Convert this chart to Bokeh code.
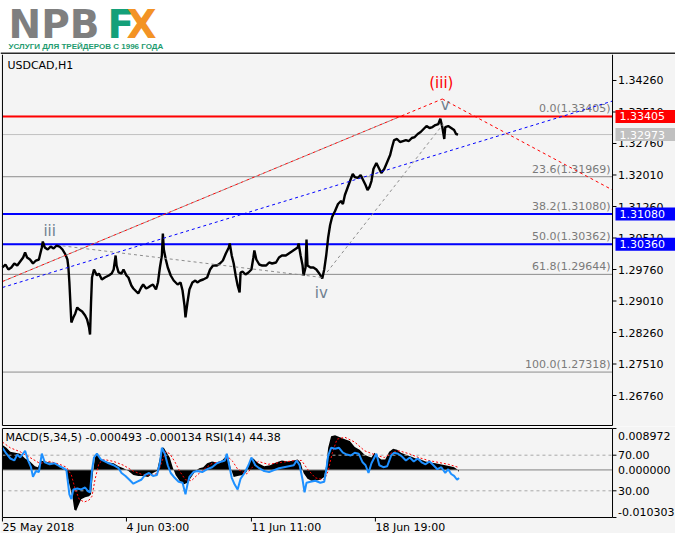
from bokeh.plotting import figure
from bokeh.models import Range1d, Label, Span
from bokeh.layouts import column
from bokeh.embed import file_html
from bokeh.resources import INLINE
from bokeh.core.properties import value

# ---------------- data ----------------
symbol = "USDCAD,H1"
logo_main = "NPB"
logo_f = "F"
logo_x = "X"
logo_sub = "УСЛУГИ ДЛЯ ТРЕЙДЕРОВ С 1996 ГОДА"

# bar position (one bar per pixel column) and price
price_bar = [2,5,8,11,14,17,20,23,25,27,30,33,36,39,42,43,45,48,51,54,57,60,63,66,68,69,70,72,74,76,
             78,80,83,86,88,90,91,92,93,95,98,100,103,106,110,113,115,117,118,120,123,125,128,130,133,135,138,140,143,145,
             148,150,153,155,158,160,162,164,165,166,168,170,173,176,180,183,185,187,188,190,192,195,198,200,203,206,210,213,216,220,
             223,226,229,232,233,235,237,239,241,243,244,246,249,252,255,257,258,260,263,266,270,273,276,280,283,286,290,293,296,299,
             302,303,305,307,308,310,311,312,315,318,321,324,327,329,331,333,335,337,340,343,346,348,350,353,356,358,360,363,366,369,
             371,373,375,377,379,382,384,387,390,393,396,398,400,403,406,409,412,415,418,421,424,427,430,433,436,439,442,445,447,449,
             451,452,455,458,461,463,465]
price_close = [1.29808,1.29879,1.29760,1.29808,1.29903,1.29855,1.29950,1.30046,1.30165,1.30046,
               1.29998,1.29903,1.29974,1.29998,1.30284,1.30426,1.30284,1.30236,1.30307,1.30260,
               1.30331,1.30307,1.30236,1.30117,1.29998,1.29808,1.29451,1.28499,1.28618,1.28713,
               1.28856,1.28808,1.28760,1.28665,1.28570,1.28380,1.28213,1.28975,1.29570,1.29760,
               1.29617,1.29665,1.29522,1.29570,1.29617,1.29665,1.29760,1.30093,1.29855,1.29689,
               1.29665,1.29760,1.29617,1.29570,1.29379,1.29308,1.29236,1.29189,1.29332,1.29403,
               1.29308,1.29332,1.29379,1.29403,1.29284,1.29451,1.29808,1.30093,1.30617,1.30236,
               1.29998,1.29808,1.29617,1.29498,1.29403,1.29451,1.29260,1.28903,1.28618,1.28975,
               1.29284,1.29451,1.29498,1.29451,1.29498,1.29522,1.29570,1.29760,1.29855,1.29855,
               1.29903,1.29974,1.30141,1.30284,1.30379,1.30093,1.29903,1.29617,1.29379,1.29213,
               1.29689,1.29712,1.29641,1.29689,1.29760,1.30046,1.30212,1.29998,1.29879,1.29855,
               1.29855,1.29927,1.29903,1.29927,1.30046,1.30093,1.30093,1.30141,1.30188,1.30236,
               1.30284,1.30379,1.30093,1.29855,1.29617,1.29808,1.30474,1.29855,1.29808,1.29808,
               1.29760,1.29665,1.29546,1.29760,1.30093,1.30522,1.30820,1.31010,1.31153,1.31320,
               1.31391,1.31320,1.31534,1.31724,1.31915,1.32034,1.31962,1.31939,1.32010,1.31867,
               1.31772,1.31653,1.31724,1.31867,1.32153,1.32296,1.32200,1.32058,1.32153,1.32319,
               1.32486,1.32676,1.32843,1.32867,1.32795,1.32819,1.32843,1.32819,1.32891,1.32914,
               1.32986,1.33033,1.33105,1.33176,1.33129,1.33152,1.33200,1.33224,1.33350,1.33152,
               1.32867,1.33152,1.33176,1.33129,1.33081,1.32986,1.32973]

price_ticks = [1.34260, 1.33510, 1.32760, 1.32010, 1.31260, 1.30510, 1.29760, 1.29010, 1.28260, 1.27510, 1.26760]
price_bottom, price_top = 1.26022, 1.34879
bar_first, bar_axis, bar_end = 2, 622, 686

fib_pct = ["0.0", "23.6", "38.2", "50.0", "61.8", "100.0"]
fib_levels = [1.33405, 1.31969, 1.31080, 1.30362, 1.29644, 1.27318]

line_levels = [1.33405, 1.31080, 1.30360]
line_colors = ["#FF0000", "#0000FF", "#0000FF"]
bid_level = 1.32973

tag_levels = [1.33405, 1.32973, 1.31080, 1.30360]
tag_colors = ["#FF0000", "#C0C0C0", "#0000FF", "#0000FF"]

# trend lines (bar, price)
trend_x0 = [2, 449, 2]
trend_y0 = [1.29474, 1.33819, 1.29332]
trend_x1 = [449, 622, 622]
trend_y1 = [1.33819, 1.31653, 1.33771]
trend_colors = ["#FF0000", "#FF0000", "#0000FF"]
wave_x0 = [2, 60, 330]
wave_y0 = [1.29474, 1.30331, 1.29641]
wave_x1 = [405, 327, 450]
wave_y1 = [1.33390, 1.29570, 1.33224]

wave_text = ["iii", "iv", "v", "(iii)"]
wave_bar = [50, 326, 452, 448]
wave_price = [1.30688, 1.29189, 1.33676, 1.34212]
wave_colors = ["#708090", "#708090", "#708090", "#FF0000"]

time_ticks = [2, 128, 255, 381]
time_labels = ["25 May 2018", "4 Jun 03:00", "11 Jun 11:00", "18 Jun 19:00"]

macd_params = "5,34,5"
macd_main_last = -0.000493
macd_signal_last = -0.000134
rsi_period = 14
rsi_last = 44.38
macd_lo, macd_hi = -0.010303, 0.008972
rsi_levels = [30, 70]

hist_bar = [2,6,10,15,20,25,30,35,38,41,45,50,55,60,64,67,70,73,75,77,79,82,86,90,92,94,96,98,101,105,
            110,115,120,125,130,135,140,145,150,155,159,162,164,166,169,172,175,178,182,186,190,194,198,202,206,210,215,220,225,229,
            231,234,237,241,246,250,254,257,262,268,274,280,286,292,298,302,305,308,312,316,320,325,329,331,333,336,340,345,350,355,
            360,365,370,374,377,380,383,387,391,395,399,403,407,412,417,422,427,432,437,442,447,452,457,461,464,466]
hist_val = [0.00541,0.00478,0.00394,0.00373,0.00352,0.00247,0.00184,0.00080,0.00059,0.00205,
            0.00184,0.00163,0.00142,0.00080,0.00017,-0.00025,-0.00318,-0.00570,-0.00863,-0.00884,
            -0.00779,-0.00633,-0.00591,-0.00570,-0.00528,-0.00067,0.00268,0.00352,0.00247,0.00205,
            0.00163,0.00142,0.00080,0.00038,-0.00025,-0.00109,-0.00130,-0.00130,-0.00151,-0.00067,
            -0.00025,0.00268,0.00478,0.00478,0.00373,0.00268,0.00059,-0.00109,-0.00235,-0.00318,
            -0.00277,-0.00151,-0.00025,0.00038,0.00059,0.00142,0.00184,0.00163,0.00205,0.00289,
            0.00310,0.00038,-0.00151,-0.00130,-0.00109,-0.00046,0.00205,0.00247,0.00142,0.00080,
            0.00101,0.00163,0.00205,0.00184,0.00205,0.00226,0.00163,-0.00067,-0.00193,-0.00235,
            -0.00235,-0.00214,-0.00151,0.00101,0.00478,0.00729,0.00750,0.00708,0.00666,0.00624,
            0.00499,0.00436,0.00331,0.00289,0.00268,0.00373,0.00289,0.00226,0.00226,0.00394,
            0.00457,0.00436,0.00373,0.00331,0.00289,0.00247,0.00226,0.00184,0.00163,0.00142,
            0.00122,0.00101,0.00080,0.00059,0.00017,-0.00046]

sig_bar = [2,10,20,30,40,50,60,67,72,76,80,85,90,93,96,100,105,115,125,135,145,155,160,164,168,172,177,182,188,194,
           200,207,215,225,232,236,241,250,256,262,272,285,300,306,312,320,329,333,337,342,350,360,370,380,390,398,405,415,425,435,
           445,455,465]
sig_val = [0.00603,0.00478,0.00394,0.00268,0.00142,0.00184,0.00122,0.00059,-0.00109,-0.00423,
           -0.00633,-0.00696,-0.00654,-0.00570,-0.00214,0.00142,0.00226,0.00184,0.00101,-0.00025,
           -0.00109,-0.00109,-0.00067,0.00184,0.00394,0.00352,0.00184,-0.00025,-0.00214,-0.00235,
           -0.00109,0.00017,0.00142,0.00184,0.00268,0.00184,0.00017,-0.00088,0.00059,0.00184,
           0.00122,0.00163,0.00205,0.00205,0.00017,-0.00172,-0.00214,-0.00025,0.00352,0.00666,
           0.00708,0.00603,0.00415,0.00331,0.00268,0.00373,0.00415,0.00352,0.00268,0.00205,
           0.00163,0.00122,0.00059]

rsi_bar = [2,6,10,14,17,20,25,28,31,33,36,39,42,45,50,55,60,64,67,70,72,74,78,82,86,89,91,93,95,98,
           102,106,110,115,120,123,127,131,135,139,143,147,151,155,159,162,164,167,170,173,177,181,185,188,190,192,196,200,205,210,
           215,220,225,228,230,232,235,238,241,244,248,252,255,259,263,268,273,278,283,288,293,298,301,304,307,309,311,315,320,325,
           329,331,333,336,340,344,348,352,356,360,364,368,371,374,377,380,382,385,389,393,397,400,404,408,412,416,420,424,428,432,
           436,440,444,448,452,455,458,461,464,466]
rsi_val = [78.3,71.7,66.3,64.1,70.7,67.4,75.0,64.1,56.5,45.7,
           52.2,51.1,71.7,62.0,59.8,60.9,57.6,55.4,53.3,26.1,
           20.7,31.5,32.6,31.5,33.7,29.3,28.3,53.3,67.4,71.7,
           65.2,63.0,60.9,58.7,55.4,50.0,46.7,42.4,38.0,40.2,
           42.4,47.8,50.0,46.7,47.8,60.9,78.3,71.7,58.7,50.0,
           44.6,40.2,39.1,26.1,37.0,45.7,51.1,52.2,51.1,54.3,
           56.5,60.9,63.0,64.1,71.7,60.9,44.6,37.0,31.5,43.5,
           50.0,58.7,67.4,58.7,55.4,52.2,51.1,53.3,55.4,56.5,
           57.6,58.7,64.1,58.7,42.4,28.3,39.1,40.2,41.3,39.1,
           40.2,53.3,69.6,78.3,77.2,78.3,72.8,70.7,69.6,72.8,
           71.7,62.0,58.7,50.0,60.9,67.4,71.7,58.7,56.5,57.6,
           69.6,72.8,71.7,68.5,64.1,67.4,63.0,66.3,62.0,59.8,
           63.0,58.7,54.3,56.5,50.0,54.3,48.9,46.7,42.4,44.38]

# ---------------- style / layout ----------------
FONT_NAME = "DejaVu Sans"
FONT = value(FONT_NAME)
BG = "#F4F4F4"
FS = "11px"
W = 675
LOGO_H = 54
MAIN_H = 372
MACD_H = 107
MACD_PLOT_H = 89
MACD_TOP_PAD = 2
TICK = 4


def base_fig(h, xr, yr):
    f = figure(width=W, height=h, output_backend="svg", toolbar_location=None,
               x_range=xr, y_range=yr, x_axis_location=None, y_axis_location=None,
               min_border_left=0, min_border_right=0, min_border_top=0, min_border_bottom=0,
               background_fill_color=BG, border_fill_color=BG, outline_line_color=None)
    f.grid.visible = False
    return f


# ---------------- logo ----------------
logo = base_fig(LOGO_H, Range1d(0, W), Range1d(0, LOGO_H))
logo.background_fill_color = "white"
logo.border_fill_color = "white"
logo_top = LOGO_H - 1
for txt, x0, col in [(logo_main, 8, "#7F7F7F"), (logo_f, 107, "#14A079"), (logo_x, 126, "#F39325")]:
    logo.add_layout(Label(x=x0, y=logo_top, text=txt, text_font=FONT_NAME, text_font_style="bold",
                          text_font_size="39px", text_color=col, text_baseline="top"))
logo.add_layout(Label(x=8, y=13, text=logo_sub, text_font="Liberation Sans",
                      text_font_style="bold", text_font_size="8px", text_color="#1E9B6F",
                      text_baseline="top"))
logo.add_layout(Span(location=1, dimension="width", line_color="#2A2A2A", line_width=2))

# ---------------- main price panel ----------------
xr = Range1d(0, bar_end)
main = base_fig(MAIN_H, xr, Range1d(price_bottom, price_top))
ppx = (price_top - price_bottom) / MAIN_H          # price units per pixel
plot_lo = price_bottom + ppx                       # bottom border of the chart area

# fibo lines and texts
n = len(fib_levels)
main.segment(x0=[bar_first] * n, x1=[bar_axis] * n, y0=fib_levels, y1=fib_levels,
             line_color="#8C8C8C", line_width=1)
fib_texts = [f"{p}({v:.5f})" for p, v in zip(fib_pct, fib_levels)]
main.text(x=[bar_axis - 2] * n, y=fib_levels, text=fib_texts,
          text_align="right", text_baseline="bottom", y_offset=-1,
          text_font=FONT, text_font_size=FS, text_color="#7A7A7A")

# current bid line and horizontal levels
main.segment(x0=[bar_first], x1=[bar_axis], y0=[bid_level], y1=[bid_level],
             line_color="#C0C0C0", line_width=1)
m = len(line_levels)
main.segment(x0=[bar_first] * m, x1=[bar_axis] * m, y0=line_levels, y1=line_levels,
             line_color=line_colors, line_width=2)

# price
main.line(price_bar, price_close, line_color="black", line_width=2.4)

# trend lines
main.segment(x0=trend_x0, y0=trend_y0, x1=trend_x1, y1=trend_y1, line_color=trend_colors,
             line_width=1, line_dash="3 3")
main.segment(x0=wave_x0, y0=wave_y0, x1=wave_x1, y1=wave_y1, line_color="#8C8C8C",
             line_width=1, line_dash="3 3", line_dash_offset=3)

# wave labels
main.text(x=wave_bar, y=wave_price, text=wave_text, text_color=wave_colors,
          text_align="center", text_baseline="middle", text_font=FONT, text_font_size="15px")

# symbol title
main.text(x=[bar_first + 5], y=[price_top], text=[symbol], text_baseline="top", y_offset=4,
          text_font=FONT, text_font_size=FS, text_color="black")

# chart border and price scale
main.segment(x0=[bar_first, bar_first, bar_axis], y0=[plot_lo, plot_lo, plot_lo],
             x1=[bar_first, bar_axis, bar_axis], y1=[price_top, plot_lo, price_top],
             line_color="black", line_width=1)
k = len(price_ticks)
main.segment(x0=[bar_axis] * k, x1=[bar_axis + TICK] * k, y0=price_ticks, y1=price_ticks,
             line_color="black", line_width=1)
main.text(x=[bar_axis + 5.5] * k, y=price_ticks, text=[f"{t:.5f}" for t in price_ticks],
          text_align="left", text_baseline="middle", text_font=FONT, text_font_size=FS,
          text_color="black")

# price tags on the scale
half = 6.5 * ppx
nt_ = len(tag_levels)
main.quad(left=[bar_axis + 3] * nt_, right=[bar_end] * nt_,
          bottom=[v - half for v in tag_levels], top=[v + half for v in tag_levels],
          fill_color=tag_colors, line_color=None)
main.text(x=[bar_axis + 7] * nt_, y=tag_levels, text=[f"{v:.5f}" for v in tag_levels],
          text_align="left", text_baseline="middle", text_font=FONT, text_font_size=FS,
          text_color="white")

# ---------------- MACD / RSI panel ----------------
u = (macd_hi - macd_lo) / MACD_PLOT_H
bottom_pad = MACD_H - MACD_TOP_PAD - MACD_PLOT_H
macd = base_fig(MACD_H, xr, Range1d(macd_lo - bottom_pad * u, macd_hi + MACD_TOP_PAD * u))
r = 100.0 / MACD_PLOT_H
macd.extra_y_ranges = {"rsi": Range1d(0 - bottom_pad * r, 100 + MACD_TOP_PAD * r)}

macd.varea(x=hist_bar, y1=[0] * len(hist_bar), y2=hist_val, fill_color="black")
macd.segment(x0=[bar_first], x1=[bar_axis], y0=[0], y1=[0], line_color="#808080", line_width=1)
macd.segment(x0=[bar_first] * 2, x1=[bar_axis] * 2, y0=rsi_levels, y1=rsi_levels, y_range_name="rsi",
             line_color="#A8A8A8", line_width=1, line_dash="3 3")
macd.line(sig_bar, sig_val, line_color="#FF0000", line_width=1, line_dash="2 2")
macd.line(rsi_bar, rsi_val, y_range_name="rsi", line_color="#1E90FF", line_width=2)

macd_title = (f"MACD({macd_params}) {macd_main_last:.6f} {macd_signal_last:.6f} "
              f"RSI({rsi_period}) {rsi_last:.2f}")
macd.text(x=[bar_first + 3], y=[macd_hi], text=[macd_title], text_baseline="top", y_offset=2,
          text_font=FONT, text_font_size=FS, text_color="black")

# border
macd.segment(x0=[bar_first, bar_first, bar_first, bar_axis], y0=[macd_lo, macd_hi, macd_lo, macd_lo],
             x1=[bar_axis, bar_axis, bar_first, bar_axis], y1=[macd_lo, macd_hi, macd_hi, macd_hi],
             line_color="black", line_width=1)
# right scale
macd.segment(x0=[bar_axis] * 2, x1=[bar_axis + TICK] * 2, y0=[macd_lo, macd_hi], y1=[macd_lo, macd_hi],
             line_color="black", line_width=1)
macd.segment(x0=[bar_axis] * 2, x1=[bar_axis + TICK] * 2, y0=rsi_levels, y1=rsi_levels,
             y_range_name="rsi", line_color="black", line_width=1)
macd.text(x=[bar_axis + 5.5] * 2, y=rsi_levels, text=[f"{v:.2f}" for v in rsi_levels],
          y_range_name="rsi", text_align="left", text_baseline="middle",
          text_font=FONT, text_font_size=FS, text_color="black")
macd.text(x=[bar_axis + 5.5] * 3, y=[macd_hi, 0.0, macd_lo],
          text=[f"{macd_hi:.6f}", f"{0:.6f}", f"{macd_lo:.6f}"], y_offset=[7, 0, -6],
          text_align="left", text_baseline="middle",
          text_font=FONT, text_font_size=FS, text_color="black")

# time scale
nt = len(time_ticks)
macd.segment(x0=time_ticks, x1=time_ticks, y0=[macd_lo] * nt, y1=[macd_lo - TICK * u] * nt,
             line_color="black", line_width=1)
macd.text(x=time_ticks, y=[macd_lo] * nt, text=time_labels, y_offset=3,
          text_align="left", text_baseline="top", text_font=FONT, text_font_size=FS,
          text_color="black")

p = column(logo, main, macd, spacing=0)
open("out.html", "w").write(file_html(p, INLINE))
